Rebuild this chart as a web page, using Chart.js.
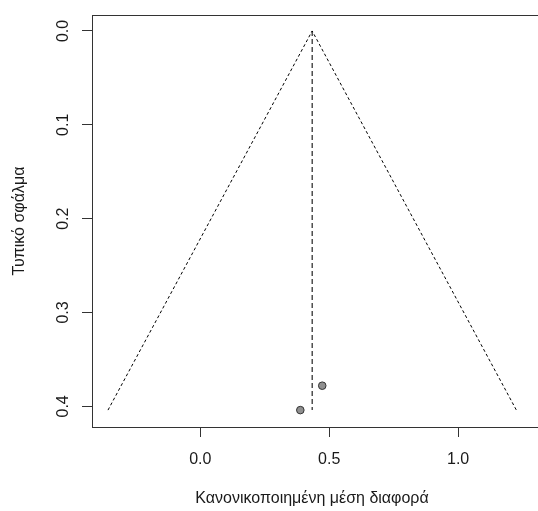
<!DOCTYPE html>
<html>
<head>
<meta charset="utf-8">
<script src="https://cdn.jsdelivr.net/npm/chart.js@4"></script>
<style>
  html, body { margin: 0; padding: 0; background: #fff; overflow: hidden; }
  #wrap { width: 538px; height: 511px; overflow: hidden; position: relative; }
  #box { width: 550px; height: 511px; }
</style>
</head>
<body>
<div id="wrap"><div id="box"><canvas id="funnel"></canvas></div></div>
<script>
// study estimates (standardised mean difference) and their standard errors
const studyEffects = [0.473, 0.388];
const studySE = [0.378, 0.404];

// pooled estimate line and the 95% funnel outline
const pooledX = [0.434, 0.434];
const pooledSE = [0, 0.404];
const funnelX = [-0.358, 0.434, 1.226];
const funnelSE = [0.404, 0, 0.404];

const xTicks = [0, 0.5, 1.0];
const yTicks = [0, 0.1, 0.2, 0.3, 0.4];

const xTitle = "Κανονικοποιημένη μέση διαφορά";
const yTitle = "Τυπικό σφάλμα";

const textColor = "#1a1a1a";
const fontFamily = "'Liberation Sans', Arial, sans-serif";

const rFrame = {
    id: "rFrame",
    afterDraw(chart) {
        const ctx = chart.ctx;
        const a = chart.chartArea;
        const ys = chart.scales.y;
        ctx.save();
        ctx.strokeStyle = "#333";
        ctx.lineWidth = 1;
        ctx.strokeRect(a.left + 0.5, a.top + 0.5, a.right - a.left, a.bottom - a.top);

        ctx.fillStyle = textColor;
        ctx.font = "16px " + fontFamily;
        ctx.textAlign = "center";
        ctx.textBaseline = "middle";
        yTicks.forEach(v => {
            const py = ys.getPixelForValue(v);
            ctx.save();
            ctx.translate(64, py);
            ctx.rotate(-Math.PI / 2);
            ctx.fillText(v.toFixed(1), 0, 0);
            ctx.restore();
        });

        // axis titles
        ctx.fillText(xTitle, (a.left + 532) / 2, 499);
        ctx.save();
        ctx.translate(20, (a.top + a.bottom) / 2);
        ctx.rotate(-Math.PI / 2);
        ctx.fillText(yTitle, 0, 0);
        ctx.restore();
        ctx.restore();
    }
};

new Chart(document.getElementById("funnel"), {
    type: "scatter",
    data: {
        datasets: [
            {
                label: "funnel",
                data: funnelX.map((x, i) => ({ x: x, y: funnelSE[i] })),
                showLine: true,
                borderColor: "#000",
                borderWidth: 1,
                borderDash: [3, 2.5],
                pointRadius: 0,
                fill: false
            },
            {
                label: "pooled",
                data: pooledX.map((x, i) => ({ x: x, y: pooledSE[i] })),
                showLine: true,
                borderColor: "#222",
                borderWidth: 1.2,
                borderDash: [5, 3],
                pointRadius: 0,
                fill: false
            },
            {
                label: "studies",
                data: studyEffects.map((x, i) => ({ x: x, y: studySE[i] })),
                backgroundColor: "#8f8f8f",
                borderColor: "#333",
                borderWidth: 1,
                pointRadius: 3.8
            }
        ]
    },
    options: {
        responsive: true,
        maintainAspectRatio: false,
        animation: false,
        layout: { padding: { top: 15, left: 0, right: 5, bottom: 0 } },
        plugins: {
            legend: { display: false },
            tooltip: { enabled: false }
        },
        scales: {
            x: {
                type: "linear",
                min: -0.42,
                max: 1.337,
                afterBuildTicks: s => { s.ticks = xTicks.map(v => ({ value: v })); },
                afterFit: s => { s.height = 84; },
                grid: {
                    drawOnChartArea: false,
                    drawTicks: true,
                    tickLength: 10,
                    color: "#333"
                },
                border: { display: false },
                ticks: {
                    color: textColor,
                    font: { family: fontFamily, size: 16 },
                    padding: 13,
                    maxRotation: 0,
                    callback: v => Number(v).toFixed(1)
                }
            },
            y: {
                type: "linear",
                reverse: true,
                min: -0.017,
                max: 0.422,
                afterBuildTicks: s => { s.ticks = yTicks.map(v => ({ value: v })); },
                afterFit: s => { s.width = 92; },
                grid: {
                    drawOnChartArea: false,
                    drawTicks: true,
                    tickLength: 10,
                    color: "#333"
                },
                border: { display: false },
                ticks: { display: false }
            }
        }
    },
    plugins: [rFrame]
});
</script>
</body>
</html>
